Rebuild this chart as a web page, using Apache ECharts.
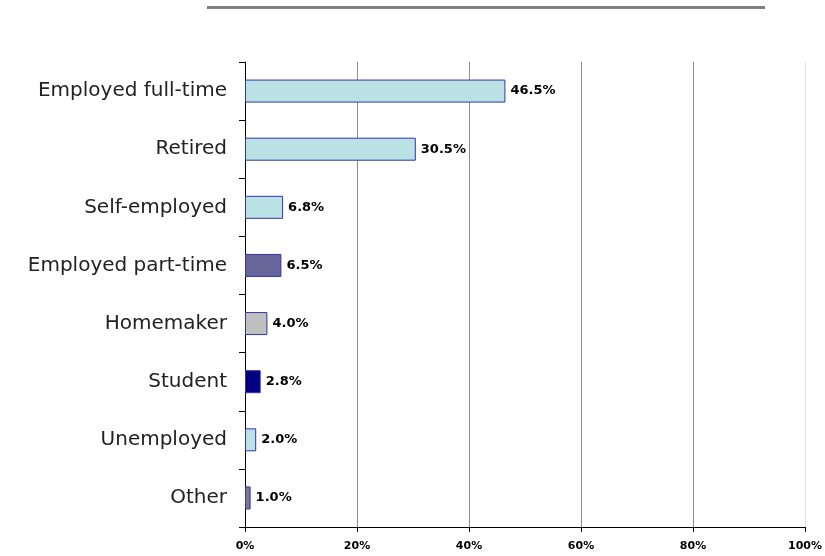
<!DOCTYPE html>
<html><head><meta charset="utf-8">
<script src="https://cdn.jsdelivr.net/npm/echarts@6/dist/echarts.min.js"></script>
<style>html,body{margin:0;padding:0;background:#fff}#c{width:825px;height:556px}</style>
</head><body><div id="c"></div>
<script>
const categories = ["Employed full-time","Retired","Self-employed","Employed part-time","Homemaker","Student","Unemployed","Other"];
const values = [46.5, 30.5, 6.8, 6.5, 4.0, 2.8, 2.0, 1.0];
const barColors = ["#BAE1E4","#BAE1E4","#BAE1E4","#666699","#C0C0C0","#000080","#BAE1E4","#7A7A8C"];
const xTicks = [0,20,40,60,80,100];

const chart = echarts.init(document.getElementById('c'));
chart.setOption({
  animation:false,
  graphic:[{type:'rect',shape:{x:207,y:6,width:558,height:3},style:{fill:'#808080'}}],
  grid:{left:245,right:16,top:62,bottom:29,containLabel:false},
  xAxis:{type:'value',min:xTicks[0],max:xTicks[xTicks.length-1],interval:20,
    axisLine:{show:true,lineStyle:{color:'#000',width:1}},
    axisTick:{show:true,length:5,lineStyle:{color:'#000'}},
    splitLine:{show:true,lineStyle:{color:['#8c8c8c','#8c8c8c','#8c8c8c','#8c8c8c','#8c8c8c','#e4e4e4'],width:1}},
    axisLabel:{formatter:v=>v+'%',fontFamily:'DejaVu Sans',fontWeight:'bold',fontSize:11,color:'#000',margin:14}
  },
  yAxis:{type:'category',data:categories,inverse:true,
    axisLine:{show:true,lineStyle:{color:'#000',width:1}},
    axisTick:{show:true,length:6,lineStyle:{color:'#000'}},
    axisLabel:{fontFamily:'DejaVu Sans',fontSize:20,color:'#222',margin:18}
  },
  series:[{type:'bar',data:values.map((v,i)=>({value:v,itemStyle:{color:barColors[i]}})),
    barWidth:23,
    itemStyle:{borderColor:'#3333AA',borderWidth:1},
    label:{show:true,position:'right',distance:5,formatter:p=>p.value.toFixed(1)+'%',
      fontFamily:'DejaVu Sans',fontWeight:'bold',fontSize:13,color:'#000'}
  }]
});
</script></body></html>
